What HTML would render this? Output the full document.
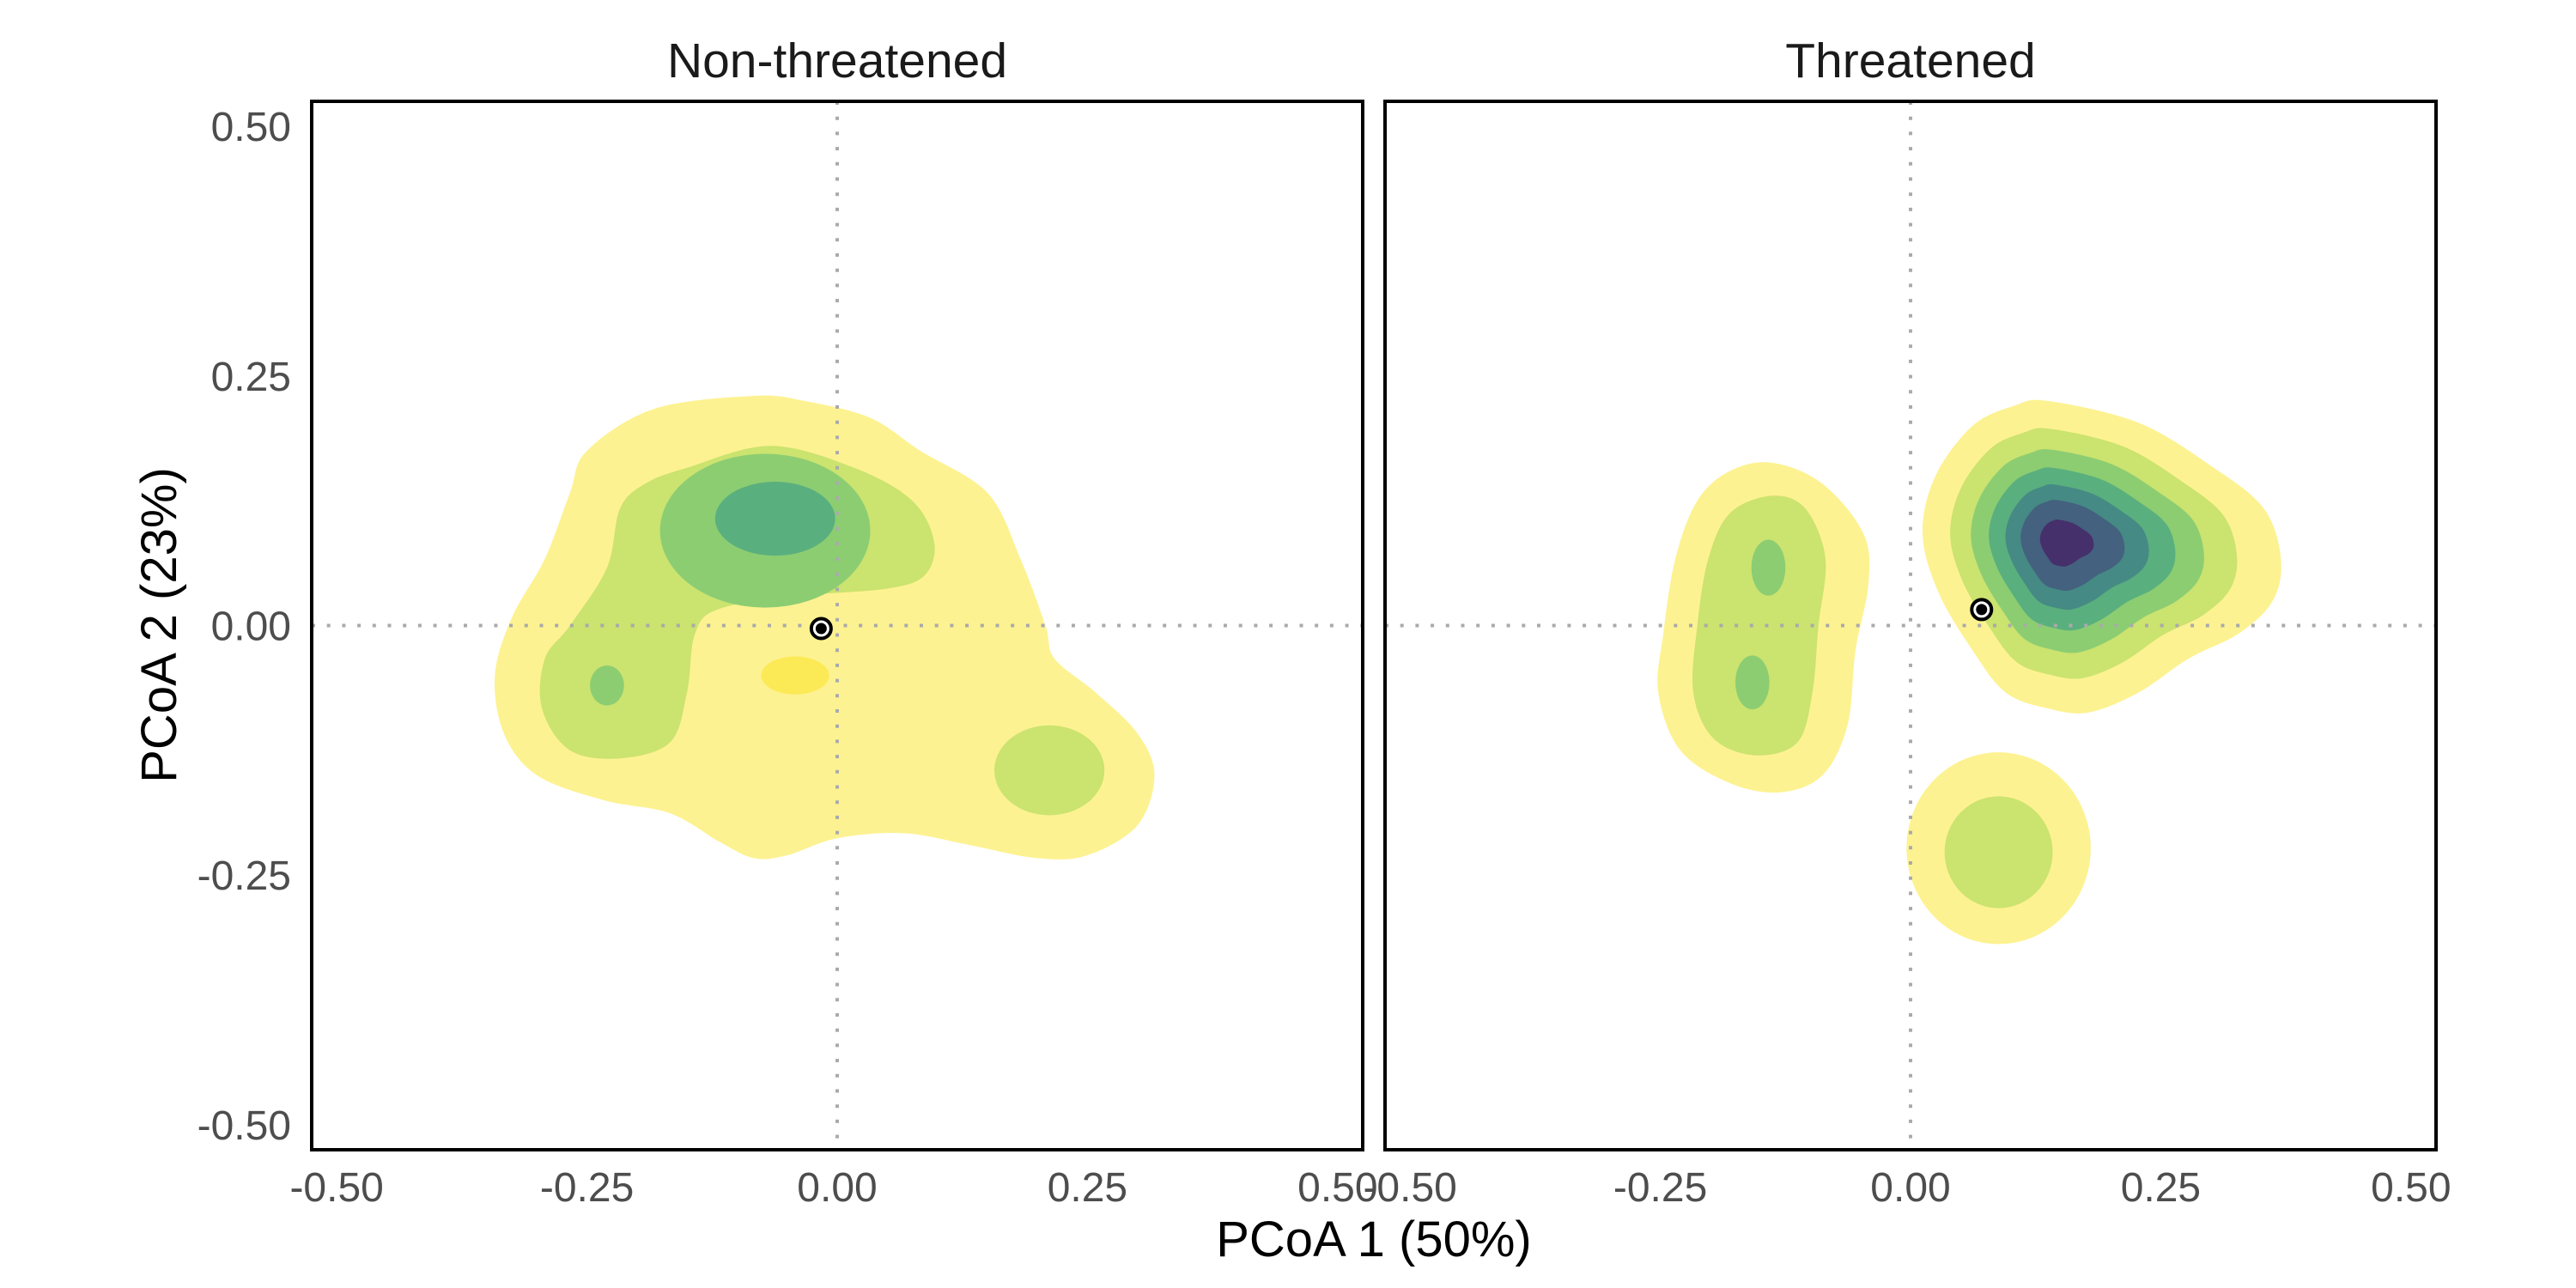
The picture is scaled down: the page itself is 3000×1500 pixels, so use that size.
<!DOCTYPE html>
<html><head><meta charset="utf-8"><style>
html,body{margin:0;padding:0;background:#fff;}
svg{display:block;font-family:"Liberation Sans",Arial,sans-serif;}
</style></head><body>
<svg id="chart" width="3000" height="1500" viewBox="0 0 3000 1500" xmlns="http://www.w3.org/2000/svg"></svg>
<script>
// ---- data (PCoA coordinates) ----
const xTicks = [-0.5, -0.25, 0, 0.25, 0.5];
const yTicks = [-0.5, -0.25, 0, 0.25, 0.5];
const xTickLabels = ["-0.50", "-0.25", "0.00", "0.25", "0.50"];
const yTickLabels = ["-0.50", "-0.25", "0.00", "0.25", "0.50"];
const panelTitles = ["Non-threatened", "Threatened"];
const levelColors = ["#fdf291", "#cbe36f", "#8ccd72", "#5aaf7e", "#458a84", "#44617f", "#46306b", "#fbea56"];

// Non-threatened contours (level index, polygon in data units)
const ntOuter = [[-0.083,0.23],[-0.033,0.225],[0.033,0.208],[0.083,0.175],[0.15,0.133],[0.183,0.067],[0.208,0],[0.217,-0.033],[0.258,-0.067],[0.3,-0.108],[0.317,-0.15],[0.3,-0.2],[0.25,-0.23],[0.2,-0.233],[0.133,-0.22],[0.067,-0.208],[0,-0.213],[-0.05,-0.23],[-0.083,-0.233],[-0.117,-0.217],[-0.167,-0.188],[-0.233,-0.175],[-0.3,-0.15],[-0.333,-0.108],[-0.342,-0.05],[-0.325,0.008],[-0.292,0.067],[-0.267,0.133],[-0.25,0.175],[-0.183,0.217]];
const ntLevel2 = [[-0.15,0.158],[-0.067,0.18],[0.017,0.158],[0.075,0.125],[0.097,0.083],[0.087,0.05],[0.05,0.037],[-0.033,0.03],[-0.117,0.017],[-0.142,-0.008],[-0.15,-0.067],[-0.167,-0.117],[-0.217,-0.133],[-0.267,-0.125],[-0.295,-0.083],[-0.292,-0.033],[-0.267,0],[-0.23,0.058],[-0.217,0.117],[-0.192,0.142]];
// ellipses: [level, cx, cy, rx, ry]
const ntEllipses = [[1,0.212,-0.145,0.055,0.045],[2,-0.072,0.095,0.105,0.077],[2,-0.23,-0.06,0.017,0.02],[3,-0.062,0.107,0.06,0.037],[7,-0.042,-0.05,0.034,0.019]];
const ntCenter = [-0.016,-0.003];

// Threatened contours
const thLeftOuter = [[-0.138,0.163],[-0.088,0.142],[-0.047,0.092],[-0.042,0.042],[-0.055,-0.025],[-0.063,-0.1],[-0.088,-0.15],[-0.13,-0.167],[-0.18,-0.158],[-0.23,-0.125],[-0.252,-0.067],[-0.247,-0.008],[-0.235,0.067],[-0.213,0.125],[-0.18,0.155]];
const thLeftInner = [[-0.138,0.13],[-0.105,0.117],[-0.085,0.067],[-0.092,0],[-0.098,-0.067],[-0.113,-0.117],[-0.155,-0.13],[-0.197,-0.113],[-0.217,-0.067],[-0.213,0],[-0.202,0.067],[-0.18,0.113]];
const thMainOuter = [[0.137,0.225],[0.228,0.203],[0.303,0.158],[0.353,0.117],[0.37,0.067],[0.362,0.025],[0.328,-0.008],[0.278,-0.033],[0.228,-0.067],[0.178,-0.087],[0.137,-0.083],[0.095,-0.067],[0.062,-0.025],[0.028,0.033],[0.012,0.092],[0.025,0.15],[0.062,0.2],[0.103,0.22]];
const thMainPeak = [0.15,0.085];
const thMainLevelScales = [1, 0.8, 0.65, 0.52, 0.4, 0.29, 0.15];
const thEllipses = [[0,0.088,-0.223,0.092,0.096],[1,0.088,-0.227,0.054,0.056],[2,-0.142,0.058,0.017,0.028],[2,-0.158,-0.057,0.017,0.027]];
const thCenter = [0.071,0.016];

// ---- layout ----
const NS = "http://www.w3.org/2000/svg";
const svg = document.getElementById("chart");
const panels = [{x0:363, x1:1587}, {x0:1613, x1:2837}];
const Y0 = 118, Y1 = 1339, DMIN = -0.525, DMAX = 0.525;
function sx(p, v){ return p.x0 + (v - DMIN) / (DMAX - DMIN) * (p.x1 - p.x0); }
function sy(v){ return Y1 - (v - DMIN) / (DMAX - DMIN) * (Y1 - Y0); }
function mk(tag, attrs, parent){ const e = document.createElementNS(NS, tag); for (const k in attrs) e.setAttribute(k, attrs[k]); (parent||svg).appendChild(e); return e; }
function smoothPath(pts){
  const n = pts.length; let d = "M" + pts[0][0].toFixed(1) + "," + pts[0][1].toFixed(1);
  for (let i = 0; i < n; i++){
    const p0 = pts[(i-1+n)%n], p1 = pts[i], p2 = pts[(i+1)%n], p3 = pts[(i+2)%n];
    const c1 = [p1[0]+(p2[0]-p0[0])/6, p1[1]+(p2[1]-p0[1])/6];
    const c2 = [p2[0]-(p3[0]-p1[0])/6, p2[1]-(p3[1]-p1[1])/6];
    d += "C" + c1.map(v=>v.toFixed(1)).join(",") + " " + c2.map(v=>v.toFixed(1)).join(",") + " " + p2.map(v=>v.toFixed(1)).join(",");
  }
  return d + "Z";
}
function drawPoly(g, p, poly, level, name){
  const pts = poly.map(q => [sx(p,q[0]), sy(q[1])]);
  const e = mk("path", {d: smoothPath(pts), fill: levelColors[level]}, g);
  
  
}
function drawEll(g, p, el, name){
  const e = mk("ellipse", {cx: sx(p,el[1]), cy: sy(el[2]), rx: Math.abs(sx(p,el[3])-sx(p,0)), ry: Math.abs(sy(0)-sy(el[4])), fill: levelColors[el[0]]}, g);
  
  
}

panels.forEach((p, pi) => {
  const g = mk("g", {});
  
  
  // contours
  if (pi === 0){
    drawPoly(g, p, ntOuter, 0, 'density-level-1');
    drawPoly(g, p, ntLevel2, 1, 'density-level-2');
    ntEllipses.forEach((el, i) => drawEll(g, p, el, 'density-blob-' + (i+1)));
  } else {
    drawPoly(g, p, thLeftOuter, 0, 'density-left-level-1');
    drawPoly(g, p, thLeftInner, 1, 'density-left-level-2');
    thMainLevelScales.forEach((s, li) => {
      const poly = thMainOuter.map(q => [thMainPeak[0] + (q[0]-thMainPeak[0])*s, thMainPeak[1] + (q[1]-thMainPeak[1])*s]);
      drawPoly(g, p, poly, li, 'density-main-level-' + (li+1));
    });
    thEllipses.forEach((el, i) => drawEll(g, p, el, 'density-blob-' + (i+1)));
  }
  // zero reference lines
  const vl = mk("line", {x1: sx(p,0), x2: sx(p,0), y1: Y0, y2: Y1, stroke: "#aaaaaa", "stroke-width": 4, "stroke-dasharray": "4 13.7"}, g);
  
  
  const hl = mk("line", {x1: p.x0, x2: p.x1, y1: sy(0), y2: sy(0), stroke: "#aaaaaa", "stroke-width": 4, "stroke-dasharray": "4 13.7"}, g);
  
  
  // centroid
  const c = pi === 0 ? ntCenter : thCenter;
  const co = mk("circle", {cx: sx(p,c[0]), cy: sy(c[1]), r: 11.5, fill: "#fff", stroke: "#000", "stroke-width": 4}, g);
  
  
  const ci = mk("circle", {cx: sx(p,c[0]), cy: sy(c[1]), r: 6.5, fill: "#000"}, g);
  
  
  // border
  const b = mk("rect", {x: p.x0, y: Y0, width: p.x1-p.x0, height: Y1-Y0, fill: "none", stroke: "#000", "stroke-width": 4}, g);
  
  
  // strip title
  const t = mk("text", {x: (p.x0+p.x1)/2, y: 90, "text-anchor": "middle", "font-size": 57, fill: "#1a1a1a"}, g);
  t.textContent = panelTitles[pi];
  
  
  // x ticks
  xTicks.forEach((v, i) => {
    const tl = mk("text", {x: sx(p,v), y: 1399, "text-anchor": "middle", "font-size": 48, fill: "#4d4d4d"}, g);
    tl.textContent = xTickLabels[i];
    
    
  });
});
// y ticks
yTicks.forEach((v, i) => {
  const tl = mk("text", {x: 339, y: sy(v)+17, "text-anchor": "end", "font-size": 48, fill: "#4d4d4d"});
  tl.textContent = yTickLabels[i];
  
  
});
const xt = mk("text", {x: 1600, y: 1463, "text-anchor": "middle", "font-size": 58, fill: "#000"});
xt.textContent = "PCoA 1 (50%)";


const yt = mk("text", {x: 0, y: 0, "text-anchor": "middle", "font-size": 58, fill: "#000", transform: "translate(205,728) rotate(-90)"});
yt.textContent = "PCoA 2 (23%)";


</script>
</body></html>
